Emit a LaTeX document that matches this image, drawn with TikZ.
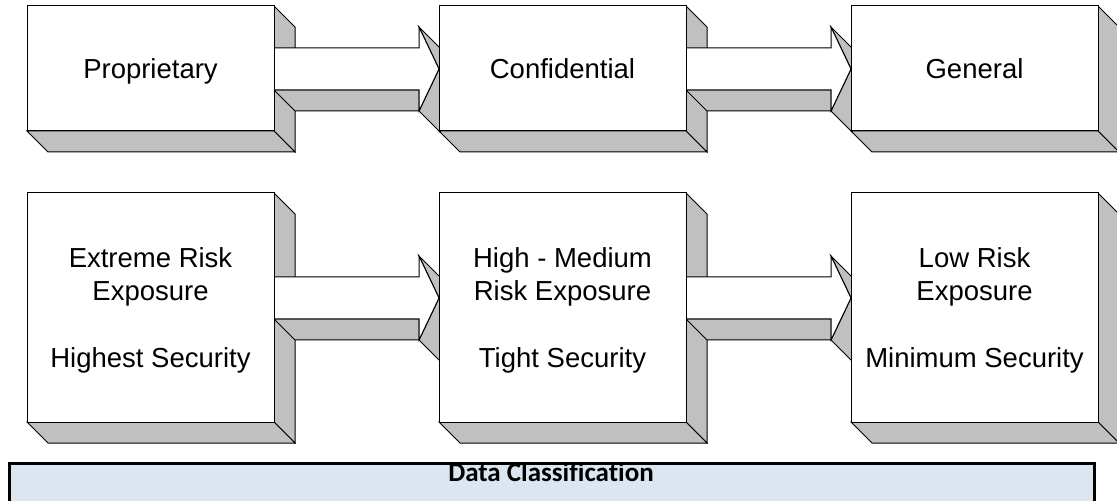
\documentclass[tikz,border=0pt]{standalone}
\usepackage{fontspec}
\setmainfont{Liberation Sans}
\newfontfamily\calibri[Ligatures=NoCommon]{Carlito}
\usetikzlibrary{calc}
\pgfdeclarelayer{faces}
\pgfdeclarelayer{arrows}
\pgfsetlayers{faces,arrows,main}
\definecolor{shade}{RGB}{192,192,192}
\definecolor{bannerblue}{RGB}{220,230,241}
\newcommand{\topstrut}{\rule{0pt}{12.9pt}}
\tikzset{
  tierbox/.style={draw, fill=white, line width=0.5pt, outer sep=0pt, inner sep=0pt, minimum width=123.5pt, align=center, font=\fontsize{13.75}{16.75}\selectfont},
  toprow/.style={tierbox, minimum height=62.5pt, text height=1.2em, text depth=0.17em},
  lowrow/.style={tierbox, minimum height=114.5pt},
  side/.style={draw, fill=shade, line width=0.5pt},
}
% gray depth faces of a box
\newcommand{\boxsides}[1]{%
  \begin{pgfonlayer}{faces}
  \draw[side] (#1.north east) -- ++(21,21) -- ($(#1.south east)+(21,21)$) -- (#1.south east) -- cycle;
  \draw[side] (#1.south west) -- ++(21,21) -- ($(#1.south east)+(21,21)$) -- (#1.south east) -- cycle;
  \end{pgfonlayer}}
% 3d block arrow from box #1 to box #2, shifted by #3
\newcommand{\blockarrow}[3]{%
  \coordinate (tail) at ($(#1.east)+(0,#3)$);
  \coordinate (tip) at ($(#2.west)+(0,#3)$);
  \coordinate (neck) at ($(tip)+(-20,0)$);
  \begin{pgfonlayer}{arrows}
  \draw[side] ($(tail)+(0,21)$) -- ($(neck)+(0,21)$) -- ($(neck)+(0,42)$) -- ($(tail)+(21,42)$) -- cycle;
  \draw[side] ($(neck)+(0,-42)$) -- (tip) -- ($(tip)+(21,21)$) -- ($(neck)+(21,-21)$) -- cycle;
  \draw[side] ($(neck)+(0,42)$) -- (tip) -- ($(tip)+(21,21)$) -- ($(neck)+(21,63)$) -- cycle;
  \draw[side, fill=white] ($(tail)+(0,-21)$) -- ($(neck)+(0,-21)$) -- ($(neck)+(0,-42)$) -- (tip) -- ($(neck)+(0,42)$) -- ($(neck)+(0,21)$) -- ($(tail)+(0,21)$) -- cycle;
  \end{pgfonlayer}}
\begin{document}
\begin{tikzpicture}[x=0.5pt, y=-0.5pt]
\useasboundingbox (0,0) rectangle (1117,501);
\clip (0,0) rectangle (1117,501);
\node[toprow] (prop) at (150.5,68.5) {Proprietary};
\node[toprow] (conf) at (562.5,68.5) {Confidential};
\node[toprow] (gen) at (974.5,68.5) {General};
\node[lowrow] (extreme) at (150.5,307.5) {\topstrut Extreme Risk\\Exposure\\[16.75pt]Highest Security};
\node[lowrow] (high) at (562.5,307.5) {\topstrut High - Medium\\Risk Exposure\\[16.75pt]Tight Security};
\node[lowrow] (low) at (974.5,307.5) {\topstrut Low Risk\\Exposure\\[16.75pt]Minimum Security};
%%%%%%%%%%%%%
\boxsides{prop} \boxsides{conf} \boxsides{gen}
\boxsides{extreme} \boxsides{high} \boxsides{low}
%%%%%%%%%%%%%
\blockarrow{prop}{conf}{0.5}
\blockarrow{conf}{gen}{0.5}
\blockarrow{extreme}{high}{-9.5}
\blockarrow{high}{low}{-9.5}
%%%%%%%%%%%%%
\draw[line width=1.5pt, fill=bannerblue] (9.5,463.5) rectangle (1094.5,540);
\node[font=\calibri\bfseries\fontsize{13.5}{16}\selectfont, anchor=base] (title) at (551,481) {Data Classification};
\end{tikzpicture}
\end{document}
